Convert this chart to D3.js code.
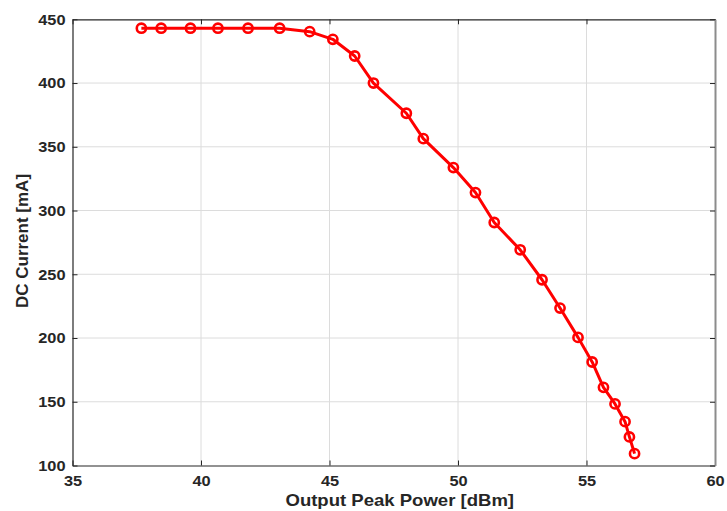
<!DOCTYPE html>
<html><head><meta charset="utf-8">
<script src="https://cdn.jsdelivr.net/npm/d3@7"></script>
<style>body{margin:0;background:#fff}svg{display:block}</style>
</head><body>
<svg id="c" width="727" height="511"></svg>
<script>
const powerDbm = [37.68,38.45,39.59,40.66,41.83,43.06,44.23,45.13,45.98,46.71,47.99,48.65,49.82,50.68,51.41,52.42,53.27,53.97,54.67,55.22,55.66,56.11,56.5,56.67,56.87];
const currentMa = [443,443,443,443,443,443,440.3,434.3,421.2,400,376.3,356.4,333.7,314.1,290.6,269.2,245.7,223.5,200.5,181.2,161.3,148.3,134.4,122.4,109.3];
const xTicks = [35,40,45,50,55,60];
const yTicks = [100,150,200,250,300,350,400,450];
const xLabel = "Output Peak Power [dBm]";
const yLabel = "DC Current [mA]";

const svg = d3.select("#c");
const L=72.5, R=715, T=19.3, B=465.5;
const x = d3.scaleLinear().domain([35,60]).range([L,R]);
const y = d3.scaleLinear().domain([100,450]).range([B,T]);
const font = "'Liberation Sans', Arial, sans-serif";
const ax = "#262626";
const stretch = 1.09;

// grid
svg.append("g").selectAll("line").data(xTicks.slice(1,-1)).join("line")
  .attr("x1",d=>x(d)).attr("x2",d=>x(d)).attr("y1",T).attr("y2",B)
  .attr("stroke","#dcdcdc").attr("stroke-width",1);
svg.append("g").selectAll("line").data(yTicks.slice(1,-1)).join("line")
  .attr("y1",d=>y(d)).attr("y2",d=>y(d)).attr("x1",L).attr("x2",R)
  .attr("stroke","#dcdcdc").attr("stroke-width",1);

// axes
const gx = svg.append("g").attr("transform",`translate(0,${B})`)
  .call(d3.axisBottom(x).tickValues(xTicks).tickSizeInner(-5).tickSizeOuter(0).tickPadding(10));
const gy = svg.append("g").attr("transform",`translate(${L},0)`)
  .call(d3.axisLeft(y).tickValues(yTicks).tickSizeInner(-5).tickSizeOuter(0).tickPadding(7));
const gt = svg.append("g").attr("transform",`translate(0,${T})`)
  .call(d3.axisTop(x).tickValues(xTicks).tickSizeInner(-5).tickSizeOuter(0).tickFormat(""));
const gr = svg.append("g").attr("transform",`translate(${R},0)`)
  .call(d3.axisRight(y).tickValues(yTicks).tickSizeInner(-5).tickSizeOuter(0).tickFormat(""));
[gx,gy,gt,gr].forEach(g=>{
  g.selectAll("path").attr("stroke",ax).attr("stroke-width",1.2);
  g.selectAll("line").attr("stroke",ax).attr("stroke-width",1);
  g.selectAll("text").attr("fill",ax).style("font-family",font).style("font-size","15px").style("font-weight","bold");
});
gr.select("path").attr("stroke","#8c8c8c").attr("stroke-width",2);
[gx,gy].forEach(g=>g.selectAll("text").each(function(){
  const w=this.getComputedTextLength();
  d3.select(this).attr("textLength",w*stretch).attr("lengthAdjust","spacingAndGlyphs");
}));

// line
svg.append("path").datum(powerDbm.map((p,i)=>[p,currentMa[i]]))
  .attr("fill","none").attr("stroke","#ff0000").attr("stroke-width",3).attr("stroke-linejoin","round")
  .attr("d",d3.line().x(d=>x(d[0])).y(d=>y(d[1])));
svg.append("g").selectAll("circle").data(powerDbm.map((p,i)=>[p,currentMa[i]])).join("circle")
  .attr("cx",d=>x(d[0])).attr("cy",d=>y(d[1])).attr("r",4.6)
  .attr("fill","none").attr("stroke","#ff0000").attr("stroke-width",2.6);

// labels
const xl = svg.append("text").attr("x",(L+R)/2 + 6).attr("y",506).attr("text-anchor","middle")
  .attr("fill",ax).style("font-family",font).style("font-size","17px").style("font-weight","bold").text(xLabel);
xl.attr("textLength",xl.node().getComputedTextLength()*stretch).attr("lengthAdjust","spacingAndGlyphs");
svg.append("text").attr("transform",`translate(28,${241}) rotate(-90)`).attr("text-anchor","middle")
  .attr("fill",ax).style("font-family",font).style("font-size","17px").style("font-weight","bold").text(yLabel);
</script>
</body></html>
